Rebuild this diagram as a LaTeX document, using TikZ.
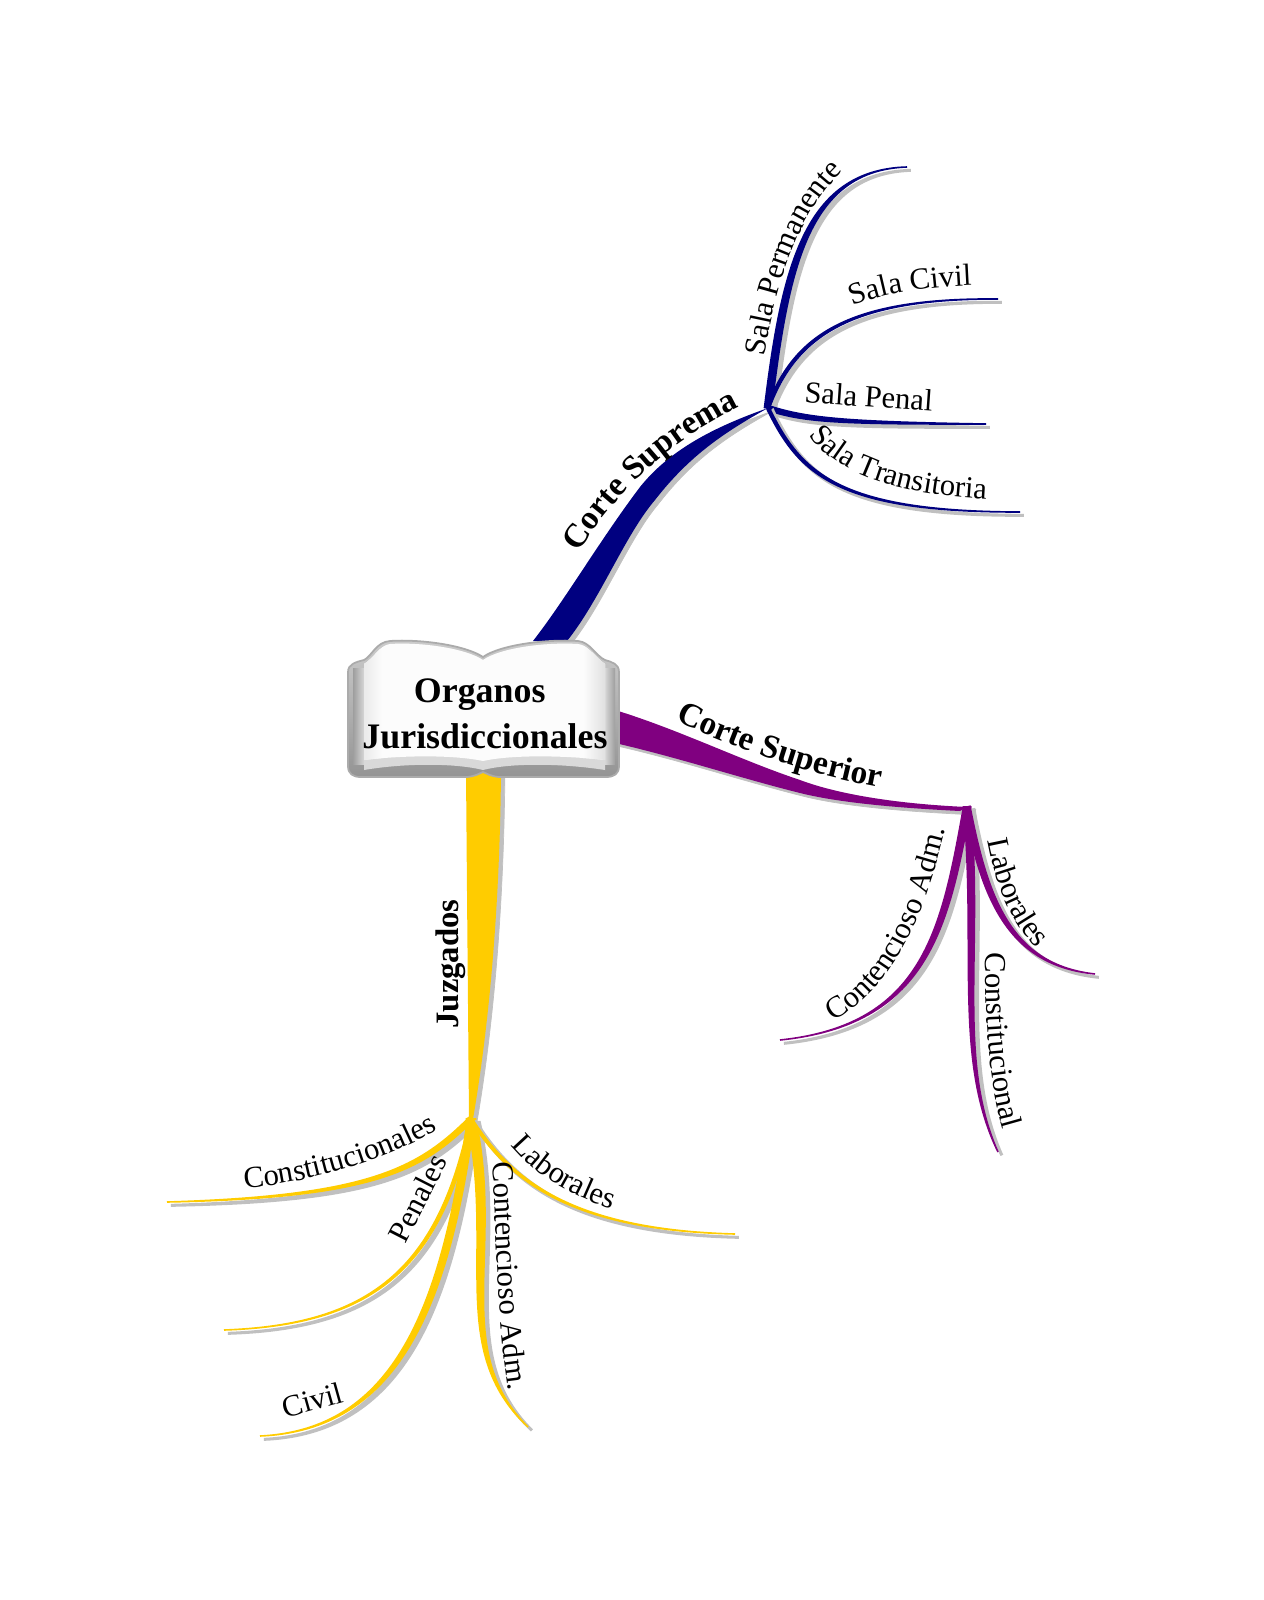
\documentclass[tikz,border=0pt]{standalone}
\usepackage{fontspec}
\setmainfont{Liberation Serif}
\usetikzlibrary{calc,decorations.text}
\definecolor{supremaBlue}{HTML}{000080}
\definecolor{superiorPurple}{HTML}{800080}
\definecolor{juzgadoGold}{HTML}{FFCC00}
\definecolor{limbShadow}{HTML}{C0C0C0}
\newcommand{\twigfont}{\fontsize{8.7}{10}\selectfont}
\newcommand{\limbfont}{\fontsize{9.5}{11}\bfseries\selectfont}
\tikzset{
  shadowed/.style={transform canvas={xshift=1.1pt,yshift=-.95pt},fill=limbShadow,draw=limbShadow,line width=.85pt},
  twigtext/.style={anchor=base,inner sep=0pt,font=\twigfont},
  twiglabel/.style={decorate,decoration={text along path,text align=center,text={|\twigfont|#1}}},
  limblabel/.style={decorate,decoration={text along path,text align=center,text={|\limbfont|#1}}}
}
% colour, from, control, control, to, half width at the thick end
\newcommand{\twig}[6]{
  \filldraw[shadowed] ($(#2)+(#6)$) .. controls ($(#3)+(#6)$) and ($(#4)+.5*(#6)$) .. (#5) .. controls ($(#4)-.5*(#6)$) and ($(#3)-(#6)$) .. ($(#2)-(#6)$) -- cycle;
  \filldraw[fill=#1,draw=#1,line width=.45pt] ($(#2)+(#6)$) .. controls ($(#3)+(#6)$) and ($(#4)+.5*(#6)$) .. (#5) .. controls ($(#4)-.5*(#6)$) and ($(#3)-(#6)$) .. ($(#2)-(#6)$) -- cycle;
}
\newcommand{\limb}[2]{
  \fill[shadowed,line width=.2pt] #2;
  \fill[#1] #2;
}
\newcommand{\pagetop}{(364,664) .. controls (374,658) and (380,645) .. (390,644) .. controls (420,642) and (465,648) .. (483,660) .. controls (500,648) and (545,642) .. (578,644) .. controls (588,645) and (596,658) .. (605,664)}
\begin{document}
\begin{tikzpicture}[x=0.01cm,y=-0.01cm]
  \useasboundingbox (0,0) rectangle (1263,1600);
  \coordinate (supremaHub) at (768,408);
  \coordinate (superiorHub) at (967,807);
  \coordinate (juzgadosHub) at (471,1119);
  % Corte Suprema
  \limb{supremaBlue}{(533,641) .. controls (565,600) and (600,540) .. (640,487) .. controls (672,447) and (720,425) .. (supremaHub) .. controls (725,432) and (690,455) .. (655,500) .. controls (625,535) and (600,600) .. (567,641) -- cycle}
  \coordinate (permanenteEnd) at (907,167);
  \coordinate (salaCivilEnd) at (998,299);
  \coordinate (salaPenalEnd) at (986,424);
  \coordinate (transitoriaEnd) at (1020,512);
  \twig{supremaBlue}{supremaHub}{785,270}{805,170}{permanenteEnd}{3.5,.5}
  \twig{supremaBlue}{supremaHub}{795,335}{850,298}{salaCivilEnd}{1,1}
  \twig{supremaBlue}{supremaHub}{805,420}{840,423}{salaPenalEnd}{0,2.5}
  \twig{supremaBlue}{supremaHub}{800,475}{840,512}{transitoriaEnd}{1,-1}
  % Corte Superior
  \limb{superiorPurple}{(615,710) .. controls (680,730) and (740,760) .. (800,780) .. controls (840,795) and (900,804) .. (superiorHub) -- (960,811) .. controls (900,808) and (840,803) .. (800,793) .. controls (740,778) and (680,758) .. (615,743) -- cycle}
  \coordinate (contenciosoSupEnd) at (780,1040);
  \coordinate (constitucionalEnd) at (998,1152);
  \coordinate (laboralesSupEnd) at (1095,974);
  \twig{superiorPurple}{superiorHub}{945,930}{925,1025}{contenciosoSupEnd}{3.5,0}
  \twig{superiorPurple}{superiorHub}{980,950}{955,1060}{constitucionalEnd}{3.5,0}
  \twig{superiorPurple}{superiorHub}{985,900}{1010,965}{laboralesSupEnd}{3,-.7}
  % Juzgados
  \limb{juzgadoGold}{(466,770) .. controls (467,900) and (468,1000) .. (469,1119) -- (473,1119) .. controls (490,1020) and (500,900) .. (501,770) -- cycle}
  \coordinate (constitucionalesEnd) at (167,1202);
  \coordinate (penalesEnd) at (224,1330);
  \coordinate (civilEnd) at (260,1436);
  \coordinate (contenciosoJuzEnd) at (528,1427);
  \coordinate (laboralesJuzEnd) at (735,1234);
  \twig{juzgadoGold}{juzgadosHub}{420,1170}{370,1197}{constitucionalesEnd}{1.5,2}
  \twig{juzgadoGold}{juzgadosHub}{440,1270}{370,1325}{penalesEnd}{1.5,.5}
  \twig{juzgadoGold}{juzgadosHub}{445,1310}{395,1430}{civilEnd}{3.5,.7}
  \twig{juzgadoGold}{juzgadosHub}{500,1250}{448,1350}{contenciosoJuzEnd}{4.5,0}
  \twig{juzgadoGold}{juzgadosHub}{510,1180}{570,1230}{laboralesJuzEnd}{1,-.7}
  % book
  \path[top color=black!20,bottom color=black!42,draw=black!33,line width=.5pt] (348,672) .. controls (348,664) and (356,662) .. (364,660) .. controls (372,656) and (376,642) .. (390,641) .. controls (420,639) and (465,645) .. (483,657) .. controls (500,645) and (545,639) .. (578,641) .. controls (590,642) and (596,656) .. (605,660) .. controls (612,662) and (619,664) .. (619,672) -- (619,766) .. controls (619,774) and (614,777) .. (606,777) -- (499,777) .. controls (490,776) and (488,774) .. (483,772) .. controls (478,774) and (476,776) .. (467,777) -- (361,777) .. controls (353,777) and (348,774) .. (348,766) -- cycle;
  \path[left color=black!38,right color=black!16] (353,668) rectangle (364,764);
  \path[left color=black!16,right color=black!38] (605,668) rectangle (615,764);
  \fill[black!15] \pagetop -- (605,770) .. controls (560,763) and (510,763) .. (483,770) .. controls (455,763) and (405,763) .. (364,770) -- cycle;
  \begin{scope}
    \clip \pagetop -- (605,760) .. controls (560,755) and (510,755) .. (483,761) .. controls (455,755) and (405,755) .. (364,760) -- cycle;
    \fill[black!1] (360,640) rectangle (610,765);
    \path[left color=black!8,right color=black!1] (364,640) rectangle (383,765);
    \path[left color=black!1,right color=black!12] (583,640) rectangle (605,765);
  \end{scope}
  \node[align=center,font=\fontsize{10.2}{13}\bfseries\selectfont] (organos) at (485,714) {Organos\kern3pt\\Jurisdiccionales};
  % labels
  \path[limblabel={Corte Suprema}] (572,562) .. controls (620,485) and (675,437) .. (750,402);
  \path[limblabel={Corte Superior}] (674,720) .. controls (717,740) and (787,770) .. (882,788);
  \node[anchor=base,inner sep=0pt,rotate=90,font=\fontsize{9.3}{11}\bfseries\selectfont] (juzgados) at (458,964) {Juzgados};
  \path[twiglabel={Sala Permanente}] (764,360) .. controls (775,290) and (795,215) .. (846,168);
  \path[twiglabel={Sala Civil}] (848,308) .. controls (885,292) and (930,287) .. (977,285);
  \node[twigtext,rotate=-4] (salaPenal) at (868,407) {Sala Penal};
  \path[twiglabel={Sala Transitoria}] (807,432) .. controls (831,470) and (892,495) .. (990,499);
  \path[twiglabel={Contencioso Adm.}] (836,1020) .. controls (895,985) and (925,915) .. (945,832);
  \path[twiglabel={Laborales}] (987,838) .. controls (994,880) and (1011,925) .. (1038,950);
  \path[twiglabel={Constitucional}] (986,953) .. controls (985,1010) and (988,1080) .. (1003,1130);
  \path[twiglabel={Constitucionales}] (245,1188) .. controls (310,1183) and (385,1160) .. (438,1130);
  \node[twigtext,rotate=63] (penales) at (427,1203) {Penales};
  \node[twigtext,rotate=15.6] (civil) at (315,1410) {Civil};
  \path[twiglabel={Contencioso Adm.}] (492,1160) .. controls (497,1230) and (497,1320) .. (509,1394);
  \path[twiglabel={Laborales}] (509,1143) .. controls (530,1170) and (565,1195) .. (615,1210);
\end{tikzpicture}
\end{document}
